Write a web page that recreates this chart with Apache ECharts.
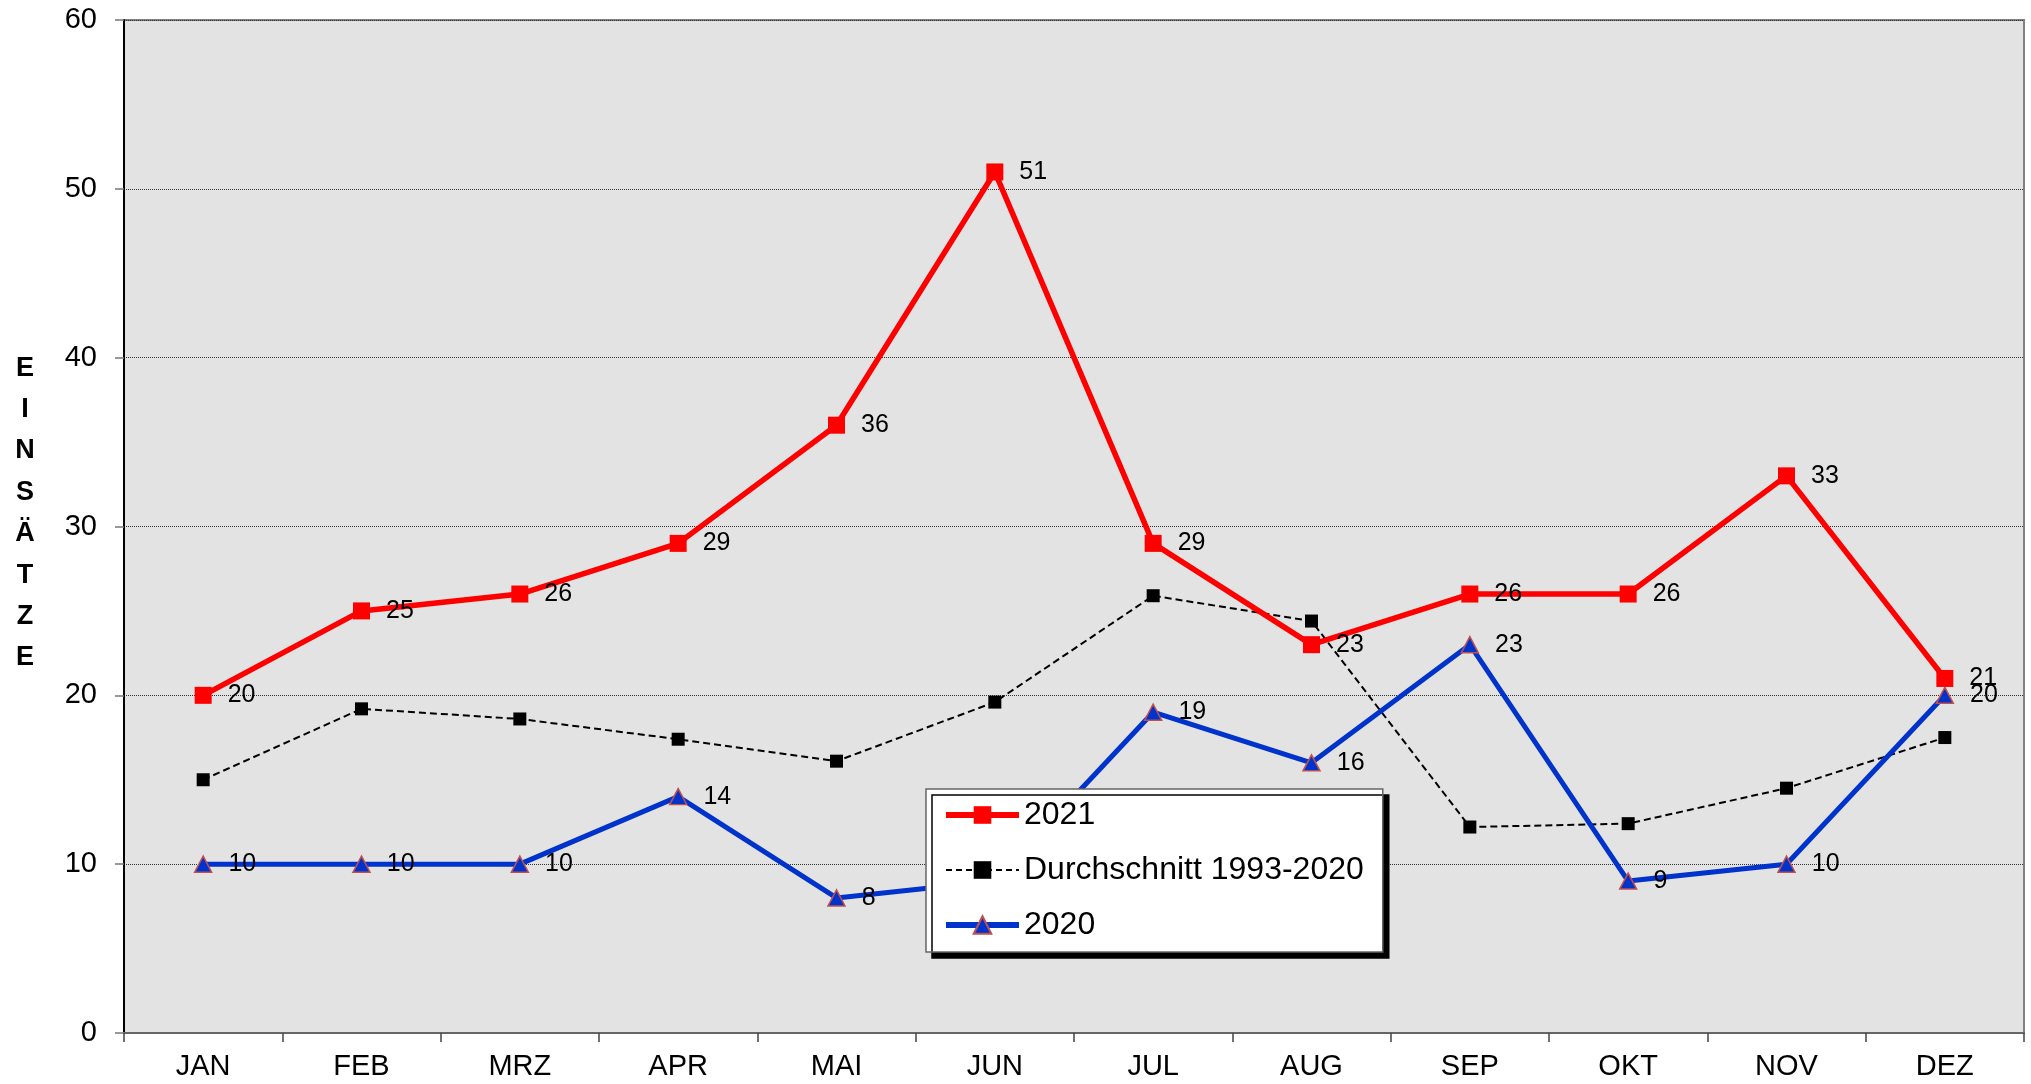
<!DOCTYPE html>
<html>
<head>
<meta charset="utf-8">
<script src="https://cdn.jsdelivr.net/npm/echarts@6/dist/echarts.min.js"></script>
<style>
html,body{margin:0;padding:0;background:#fff;}
#chart{width:2031px;height:1084px;}
</style>
</head>
<body>
<div id="chart"></div>
<script>
const categories = ['JAN','FEB','MRZ','APR','MAI','JUN','JUL','AUG','SEP','OKT','NOV','DEZ'];
const values2021 = [20,25,26,29,36,51,29,23,26,26,33,21];
const valuesAvg = [15.0,19.2,18.6,17.4,16.1,19.6,25.9,24.4,12.2,12.4,14.5,17.5];
const values2020 = [10,10,10,14,8,9,19,16,23,9,10,20];
const seriesNames = ['2021','Durchschnitt 1993-2020','2020'];
const yTitle = 'EINSÄTZE';

const FONT = '"Liberation Sans", Arial, sans-serif';
const chart = echarts.init(document.getElementById('chart'), null, {renderer:'canvas'});

const labelStyle = {
  show: true, position: 'right', distance: 16,
  color: '#000', fontSize: 25, fontFamily: FONT
};

chart.setOption({
  animation: false,
  backgroundColor: '#fff',
  grid: {
    left: 124, top: 20, right: 7, bottom: 51,
    show: true, backgroundColor: '#E3E3E3',
    borderColor: '#808080', borderWidth: 2
  },
  graphic: [{
    type: 'text', x: 25, y: 513, z: 10,
    style: {
      text: yTitle.split('').join('\n'),
      font: 'bold 27px ' + FONT,
      fontSize: 27, fontWeight: 'bold', fontFamily: FONT,
      align: 'center', verticalAlign: 'middle',
      textAlign: 'center', textVerticalAlign: 'middle',
      lineHeight: 41.4, fill: '#000'
    }
  }],
  legend: {
    orient: 'vertical',
    left: 926, top: 789,
    padding: [10, 19, 11, 17],
    itemGap: 23, itemWidth: 73, itemHeight: 22,
    backgroundColor: '#fff',
    borderColor: '#666', borderWidth: 1.5,
    shadowColor: '#000', shadowBlur: 0, shadowOffsetX: 6, shadowOffsetY: 6,
    textStyle: {fontSize: 32, color: '#000', fontFamily: FONT},
    data: [
      {name: seriesNames[0], lineStyle: {width: 6, color: '#FF0000'}},
      {name: seriesNames[1], lineStyle: {width: 2, color: '#000', type: [6, 4]}},
      {name: seriesNames[2], lineStyle: {width: 6, color: '#0033CC'}}
    ]
  },
  xAxis: {
    type: 'category', data: categories, boundaryGap: true,
    axisLine: {lineStyle: {color: '#666', width: 2}},
    axisTick: {show: true, length: 9, lineStyle: {color: '#444', width: 1.5}},
    axisLabel: {fontSize: 29, color: '#000', fontFamily: FONT, margin: 19},
    splitLine: {show: false}
  },
  yAxis: {
    type: 'value', min: 0, max: 60, interval: 10,
    axisLine: {show: true, lineStyle: {color: '#000', width: 2}},
    axisTick: {show: true, length: 9, lineStyle: {color: '#777', width: 1.5}},
    axisLabel: {fontSize: 29, color: '#000', fontFamily: FONT, margin: 27},
    splitLine: {show: true, lineStyle: {color: '#333', type: 'dotted', width: 1}}
  },
  series: [
    {
      name: seriesNames[0], type: 'line', data: values2021, z: 4,
      symbol: 'rect', symbolSize: 17,
      lineStyle: {color: '#FF0000', width: 5.5},
      itemStyle: {color: '#FF0000'},
      label: labelStyle
    },
    {
      name: seriesNames[1], type: 'line', data: valuesAvg, z: 3,
      symbol: 'rect', symbolSize: 13,
      lineStyle: {color: '#000', width: 2, type: [7, 4]},
      itemStyle: {color: '#000'},
      label: {show: false}
    },
    {
      name: seriesNames[2], type: 'line', data: values2020, z: 3,
      symbol: 'triangle', symbolSize: [17, 16],
      lineStyle: {color: '#0033CC', width: 5},
      itemStyle: {color: '#0033CC', borderColor: '#C0504D', borderWidth: 1.5},
      label: labelStyle
    }
  ]
});
</script>
</body>
</html>
